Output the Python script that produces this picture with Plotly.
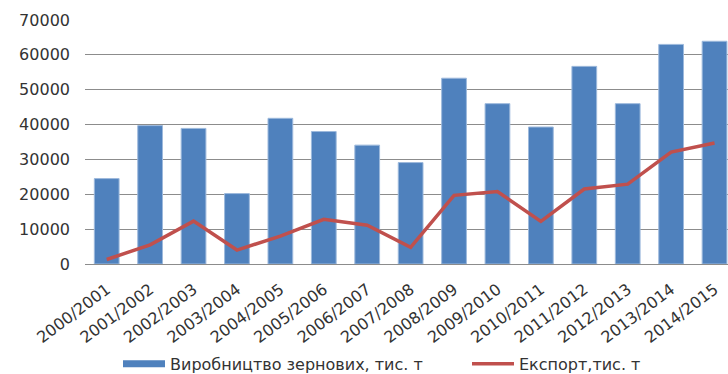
import plotly.graph_objects as go

seasons = ["2000/2001", "2001/2002", "2002/2003", "2003/2004", "2004/2005",
           "2005/2006", "2006/2007", "2007/2008", "2008/2009", "2009/2010",
           "2010/2011", "2011/2012", "2012/2013", "2013/2014", "2014/2015"]
production = [24500, 39700, 38900, 20200, 41800, 38000, 34100, 29100,
              53300, 46000, 39300, 56700, 46000, 63000, 63900]
export = [1300, 5500, 12300, 4000, 8000, 12800, 11100, 4800,
          19700, 20800, 12200, 21500, 22900, 32100, 34700]

BLUE = "#4F81BD"
RED = "#C0504D"
GRID = "#8C8C8C"
TEXT = "#333333"
FONT = "DejaVu Sans"
PROD_NAME = "Виробництво зернових, тис. т"
EXP_NAME = "Експорт,тис. т"

fig = go.Figure()
fig.add_trace(go.Bar(
    x=seasons, y=production, name=PROD_NAME, showlegend=False,
    marker=dict(color=BLUE, line=dict(color="#9DB9DC", width=1)),
))
# legend key for the bars drawn as a wide filled strip
fig.add_trace(go.Scatter(
    x=[None], y=[None], name=PROD_NAME, mode="lines",
    line=dict(color=BLUE, width=7), legend="legend",
))
fig.add_trace(go.Scatter(
    x=seasons, y=export, name=EXP_NAME, mode="lines",
    line=dict(color=RED, width=3.5), legend="legend2",
))

legend_style = dict(
    orientation="h", xanchor="left",
    yref="container", y=0.027, yanchor="middle",
    font=dict(size=16, color=TEXT, family=FONT), itemwidth=42,
    bgcolor="rgba(0,0,0,0)",
)

fig.update_layout(
    width=728, height=374,
    margin=dict(l=85, r=0, t=20, b=110),
    paper_bgcolor="white", plot_bgcolor="white",
    font=dict(family=FONT, color=TEXT),
    bargap=0.43,
    showlegend=True,
    legend=dict(xref="container", x=118 / 728, **legend_style),
    legend2=dict(xref="container", x=467 / 728, **legend_style),
)
fig.update_xaxes(
    type="category", range=[-0.5, 14.31], automargin=False,
    tickangle=-37, tickfont=dict(size=16, color=TEXT),
    showgrid=False, showline=True, linecolor=GRID, linewidth=1,
    ticks="", ticklabelstandoff=9,
)
fig.update_yaxes(
    range=[0, 70000], dtick=10000, tickformat="d", automargin=False,
    tickfont=dict(size=16, color=TEXT),
    showgrid=True, gridcolor=GRID, gridwidth=1,
    zeroline=True, zerolinecolor=GRID, zerolinewidth=1,
    ticklabelstandoff=14,
)

fig.write_html("out.html")
